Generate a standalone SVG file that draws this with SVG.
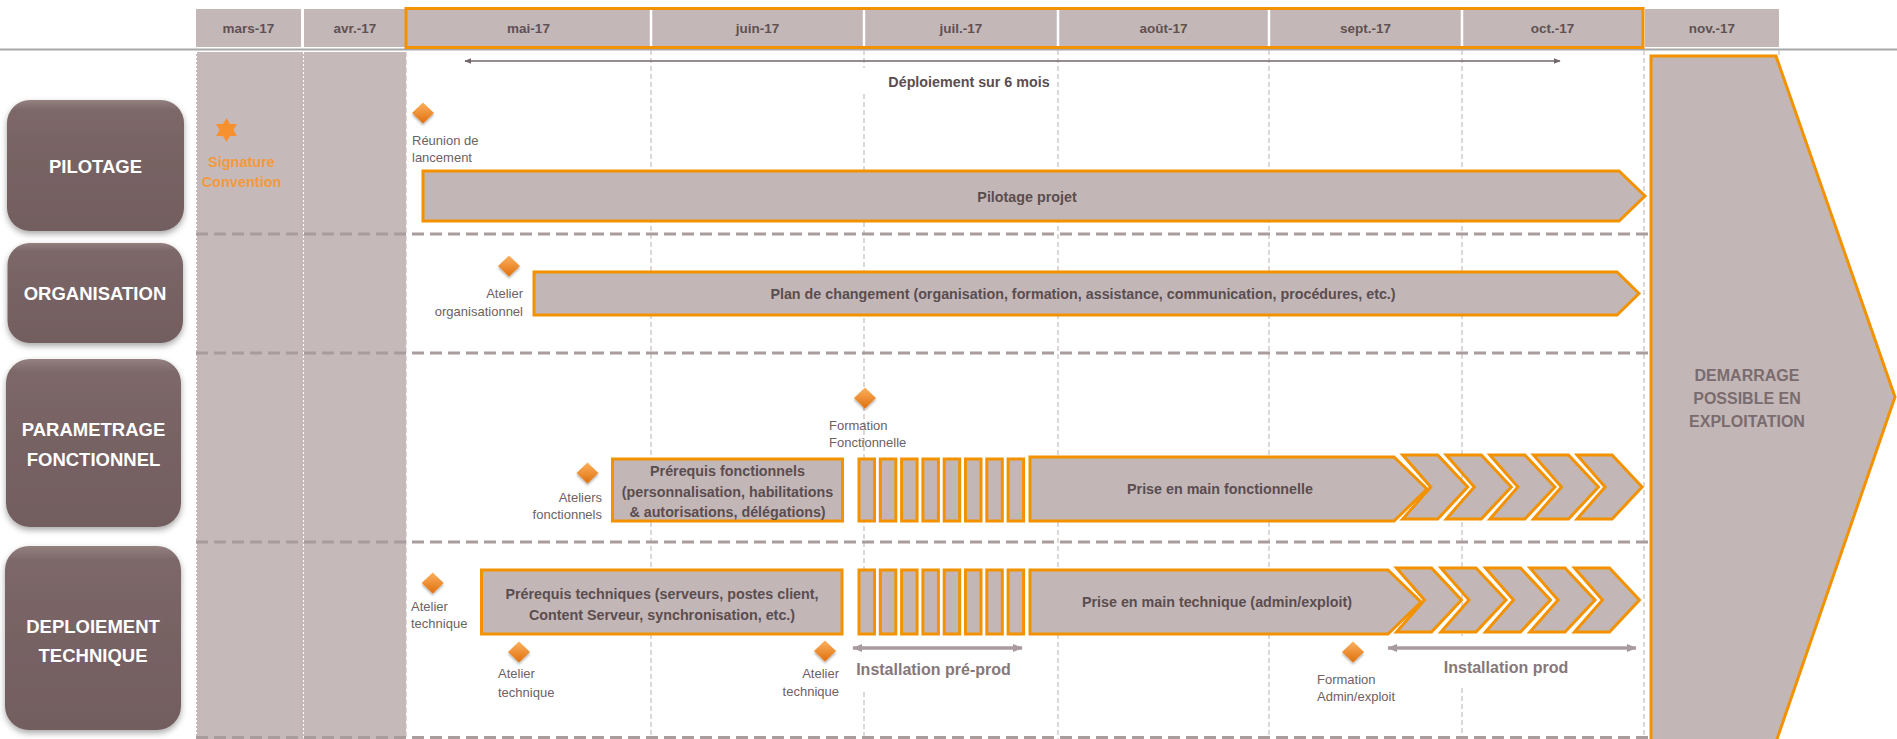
<svg xmlns="http://www.w3.org/2000/svg" width="1897" height="739" viewBox="0 0 1897 739">
<defs>
<linearGradient id="boxg" x1="0" y1="0" x2="0" y2="1">
<stop offset="0" stop-color="#93807f"/>
<stop offset="0.08" stop-color="#7c6768"/>
<stop offset="1" stop-color="#725d5f"/>
</linearGradient>
<linearGradient id="diag" x1="0" y1="0" x2="0" y2="1">
<stop offset="0" stop-color="#fbb15e"/>
<stop offset="1" stop-color="#e0700e"/>
</linearGradient>
<filter id="sh" x="-10%" y="-10%" width="120%" height="130%">
<feDropShadow dx="0" dy="3" stdDeviation="3" flood-color="#000" flood-opacity="0.35"/>
</filter>
<filter id="dsh" x="-40%" y="-40%" width="180%" height="190%">
<feDropShadow dx="0" dy="2" stdDeviation="1.2" flood-color="#000" flood-opacity="0.3"/>
</filter>
<path id="dia" d="M0,-10.5 L11,0 L0,10.5 L-11,0 Z"/>
<path id="chev" d="M0,0 L35,0 L65,32 L35,64 L0,64 L28,32 Z"/>
<marker id="ahd" viewBox="0 0 10 10" refX="9" refY="5" markerWidth="7" markerHeight="7" orient="auto-start-reverse" markerUnits="userSpaceOnUse">
<path d="M0,1 L10,5 L0,9 Z" fill="#74666a"/>
</marker>
<marker id="ahl" viewBox="0 0 10 10" refX="9" refY="5" markerWidth="10" markerHeight="10" orient="auto-start-reverse" markerUnits="userSpaceOnUse">
<path d="M0,1 L10,5 L0,9 Z" fill="#a89b9d"/>
</marker>
<style>
.hdr{fill:#c4b7b8}
.mon{font-family:"Liberation Sans",Arial,sans-serif;font-weight:bold;font-size:13.5px;fill:#5e5153;text-anchor:middle}
.lbl{fill:url(#boxg);filter:url(#sh)}
.lt{font-family:"Liberation Sans",Arial,sans-serif;font-weight:bold;font-size:18.5px;fill:#ffffff;text-anchor:middle}
.bar{fill:#c3b6b7;stroke:#f39200;stroke-width:3}
.bt{font-family:"Liberation Sans",Arial,sans-serif;font-weight:bold;font-size:14.3px;fill:#5a4d4f;text-anchor:middle}
.sm{font-family:"Liberation Sans",Arial,sans-serif;font-size:13px;fill:#6d6163}
.vd{stroke:#c8bdbe;stroke-width:1.2;stroke-dasharray:5 3;fill:none}
.sep{stroke:#a99c9d;stroke-width:3;stroke-dasharray:12 6;fill:none}
.dia{fill:url(#diag);filter:url(#dsh)}
.big{font-family:"Liberation Sans",Arial,sans-serif;font-weight:bold;font-size:16px;fill:#86787a;text-anchor:middle}
.dem{font-family:"Liberation Sans",Arial,sans-serif;font-weight:bold;font-size:16px;fill:#7a6c6e;text-anchor:middle}
.sig{font-family:"Liberation Sans",Arial,sans-serif;font-weight:bold;font-size:14.5px;fill:#f39a3c;text-anchor:middle}
</style>
</defs>
<rect x="0" y="0" width="1897" height="739" fill="#ffffff"/>

<!-- shaded pre-project columns -->
<g id="preperiod">
<rect x="196" y="52" width="210" height="690" fill="#c5b9ba"/>
<line x1="303.5" y1="52" x2="303.5" y2="739" stroke="#ffffff" stroke-width="1" stroke-dasharray="2 2"/>
<line x1="196.5" y1="52" x2="196.5" y2="739" stroke="#ffffff" stroke-width="1" stroke-dasharray="2 2"/>
</g>

<!-- header -->
<g id="header">
<line x1="0" y1="49.5" x2="1897" y2="49.5" stroke="#a8a8a8" stroke-width="2"/>
<rect class="hdr" x="196" y="9" width="105" height="38"/>
<rect class="hdr" x="304" y="9" width="102" height="38"/>
<rect class="hdr" x="406" y="9" width="1237" height="38"/>
<rect class="hdr" x="1645" y="9" width="134" height="38"/>
<g stroke="#ffffff" stroke-width="2.5">
<line x1="651" y1="10" x2="651" y2="46"/>
<line x1="864" y1="10" x2="864" y2="46"/>
<line x1="1058" y1="10" x2="1058" y2="46"/>
<line x1="1269" y1="10" x2="1269" y2="46"/>
<line x1="1462" y1="10" x2="1462" y2="46"/>
</g>
<rect x="406" y="8.5" width="1237" height="39" fill="none" stroke="#f39200" stroke-width="3"/>
<text class="mon" x="248.5" y="33">mars-17</text>
<text class="mon" x="355" y="33">avr.-17</text>
<text class="mon" x="528.5" y="33">mai-17</text>
<text class="mon" x="757.5" y="33">juin-17</text>
<text class="mon" x="961" y="33">juil.-17</text>
<text class="mon" x="1163.5" y="33">août-17</text>
<text class="mon" x="1365.5" y="33">sept.-17</text>
<text class="mon" x="1552.5" y="33">oct.-17</text>
<text class="mon" x="1712" y="33">nov.-17</text>
</g>

<!-- month grid lines -->
<g id="grid">
<line class="vd" x1="406" y1="52" x2="406" y2="739"/>
<line class="vd" x1="651" y1="50" x2="651" y2="739"/>
<line class="vd" x1="864" y1="50" x2="864" y2="68"/>
<line class="vd" x1="864" y1="94" x2="864" y2="636"/>
<line class="vd" x1="864" y1="692" x2="864" y2="739"/>
<line class="vd" x1="1058" y1="50" x2="1058" y2="739"/>
<line class="vd" x1="1269" y1="50" x2="1269" y2="739"/>
<line class="vd" x1="1462" y1="50" x2="1462" y2="636"/>
<line class="vd" x1="1462" y1="688" x2="1462" y2="739"/>
<line class="vd" x1="1644" y1="50" x2="1644" y2="739"/>
<line class="vd" x1="1779" y1="50" x2="1779" y2="58"/>
</g>

<!-- row separators -->
<g id="separators">
<line class="sep" x1="196" y1="234" x2="1648" y2="234"/>
<line class="sep" x1="196" y1="353" x2="1648" y2="353"/>
<line class="sep" x1="196" y1="542" x2="1648" y2="542"/>
<line class="sep" x1="196" y1="737.5" x2="1648" y2="737.5"/>
</g>

<!-- row labels -->
<g id="row-pilotage">
<rect class="lbl" x="7" y="100" width="177" height="131" rx="23"/>
<text class="lt" x="95.5" y="173">PILOTAGE</text>
</g>
<g id="row-organisation">
<rect class="lbl" x="7.5" y="243" width="175.5" height="100" rx="22"/>
<text class="lt" x="95" y="299.5">ORGANISATION</text>
</g>
<g id="row-parametrage">
<rect class="lbl" x="6" y="359" width="175" height="168" rx="24"/>
<text class="lt" x="93.5" y="435.5">PARAMETRAGE</text>
<text class="lt" x="93.5" y="465.5">FONCTIONNEL</text>
</g>
<g id="row-deploiement">
<rect class="lbl" x="5" y="546" width="176" height="184" rx="24"/>
<text class="lt" x="93" y="632.5">DEPLOIEMENT</text>
<text class="lt" x="93" y="661.5">TECHNIQUE</text>
</g>

<!-- connectors -->
<g id="connectors">
<line x1="465" y1="61" x2="1560" y2="61" stroke="#74666a" stroke-width="1.6" marker-start="url(#ahd)" marker-end="url(#ahd)"/>
<line x1="853" y1="648" x2="1022" y2="648" stroke="#a89b9d" stroke-width="3.5" marker-start="url(#ahl)" marker-end="url(#ahl)"/>
<line x1="1388" y1="648" x2="1636" y2="648" stroke="#a89b9d" stroke-width="3.5" marker-start="url(#ahl)" marker-end="url(#ahl)"/>
</g>

<g id="deploiement-label">
<text class="bt" x="969" y="87">Déploiement sur 6 mois</text>
</g>

<!-- signature -->
<g id="signature">
<path d="M226.5,118 L236.9,136 L216.1,136 Z M226.5,142 L216.1,124 L236.9,124 Z" fill="#f7912f"/>
<text class="sig" x="241.5" y="166.5">Signature</text>
<text class="sig" x="241.5" y="186.5">Convention</text>
</g>

<!-- PILOTAGE row -->
<g id="m-reunion">
<use href="#dia" class="dia" x="423" y="113"/>
<text class="sm" x="412" y="144.5">Réunion de</text>
<text class="sm" x="412" y="161.5">lancement</text>
</g>
<g id="pilotage-projet">
<polygon class="bar" points="423,171 1619,171 1645,196 1619,221 423,221"/>
<text class="bt" x="1027" y="201.5">Pilotage projet</text>
</g>

<!-- ORGANISATION row -->
<g id="m-atelier-org">
<use href="#dia" class="dia" x="509" y="266"/>
<text class="sm" x="523" y="297.5" text-anchor="end">Atelier</text>
<text class="sm" x="523" y="315.5" text-anchor="end">organisationnel</text>
</g>
<g id="plan-changement">
<polygon class="bar" points="534,272 1617,272 1639,293.5 1617,315 534,315"/>
<text class="bt" x="1083" y="299">Plan de changement (organisation, formation, assistance, communication, procédures, etc.)</text>
</g>

<!-- PARAMETRAGE row -->
<g id="m-formation-fonc">
<use href="#dia" class="dia" x="865" y="398"/>
<text class="sm" x="829" y="429.5">Formation</text>
<text class="sm" x="829" y="446.5">Fonctionnelle</text>
</g>
<g id="m-ateliers-fonc">
<use href="#dia" class="dia" x="587.5" y="473"/>
<text class="sm" x="602" y="501.5" text-anchor="end">Ateliers</text>
<text class="sm" x="602" y="519" text-anchor="end">fonctionnels</text>
</g>
<g id="prerequis-fonc">
<rect class="bar" x="612.5" y="459" width="230" height="62" stroke-width="2.5"/>
<text class="bt" x="727.5" y="476">Prérequis fonctionnels</text>
<text class="bt" x="727.5" y="496.5">(personnalisation, habilitations</text>
<text class="bt" x="727.5" y="517">&amp; autorisations, délégations)</text>
</g>
<g id="sprints-fonc" class="bar" stroke-width="2.5">
<rect x="859" y="459" width="15.5" height="62"/>
<rect x="880.3" y="459" width="15.5" height="62"/>
<rect x="901.6" y="459" width="15.5" height="62"/>
<rect x="922.9" y="459" width="15.5" height="62"/>
<rect x="944.2" y="459" width="15.5" height="62"/>
<rect x="965.5" y="459" width="15.5" height="62"/>
<rect x="986.8" y="459" width="15.5" height="62"/>
<rect x="1008.1" y="459" width="15.5" height="62"/>
</g>
<g id="prise-fonc">
<polygon class="bar" points="1030,457 1394,457 1427,489 1394,521 1030,521"/>
<text class="bt" x="1220" y="494">Prise en main fonctionnelle</text>
</g>
<g id="chevrons-fonc" class="bar">
<use href="#chev" x="1402.7" y="455"/>
<use href="#chev" x="1446.3" y="455"/>
<use href="#chev" x="1489.9" y="455"/>
<use href="#chev" x="1533.5" y="455"/>
<use href="#chev" x="1577.1" y="455"/>
</g>

<!-- DEPLOIEMENT row -->
<g id="m-atelier-tech1">
<use href="#dia" class="dia" x="432.7" y="583"/>
<text class="sm" x="411" y="611">Atelier</text>
<text class="sm" x="411" y="628">technique</text>
</g>
<g id="prerequis-tech">
<rect class="bar" x="481.5" y="570" width="360.5" height="64" stroke-width="2.5"/>
<text class="bt" x="662" y="599">Prérequis techniques (serveurs, postes client,</text>
<text class="bt" x="662" y="620">Content Serveur, synchronisation, etc.)</text>
</g>
<g id="m-atelier-tech2">
<use href="#dia" class="dia" x="519" y="652"/>
<text class="sm" x="498" y="678">Atelier</text>
<text class="sm" x="498" y="696.5">technique</text>
</g>
<g id="m-atelier-tech3">
<use href="#dia" class="dia" x="825" y="651"/>
<text class="sm" x="839" y="678" text-anchor="end">Atelier</text>
<text class="sm" x="839" y="696" text-anchor="end">technique</text>
</g>
<g id="sprints-tech" class="bar" stroke-width="2.5">
<rect x="859" y="570" width="15.5" height="64"/>
<rect x="880.3" y="570" width="15.5" height="64"/>
<rect x="901.6" y="570" width="15.5" height="64"/>
<rect x="922.9" y="570" width="15.5" height="64"/>
<rect x="944.2" y="570" width="15.5" height="64"/>
<rect x="965.5" y="570" width="15.5" height="64"/>
<rect x="986.8" y="570" width="15.5" height="64"/>
<rect x="1008.1" y="570" width="15.5" height="64"/>
</g>
<g id="prise-tech">
<polygon class="bar" points="1030,570 1388,570 1421,602 1388,634 1030,634"/>
<text class="bt" x="1217" y="607">Prise en main technique (admin/exploit)</text>
</g>
<g id="chevrons-tech" class="bar">
<use href="#chev" x="1396.5" y="568"/>
<use href="#chev" x="1441" y="568"/>
<use href="#chev" x="1485.5" y="568"/>
<use href="#chev" x="1530" y="568"/>
<use href="#chev" x="1574.5" y="568"/>
</g>
<g id="installation-preprod">
<text class="big" x="933.5" y="674.5">Installation pré-prod</text>
</g>
<g id="m-formation-admin">
<use href="#dia" class="dia" x="1353" y="652"/>
<text class="sm" x="1317" y="683.5">Formation</text>
<text class="sm" x="1317" y="701">Admin/exploit</text>
</g>
<g id="installation-prod">
<text class="big" x="1506" y="672.5">Installation prod</text>
</g>

<!-- DEMARRAGE -->
<g id="demarrage">
<polygon points="1651,56 1776,56 1895,397 1776,742 1651,742" fill="#c3b6b7" stroke="#f39200" stroke-width="3"/>
<text class="dem" x="1747" y="381">DEMARRAGE</text>
<text class="dem" x="1747" y="404">POSSIBLE EN</text>
<text class="dem" x="1747" y="427">EXPLOITATION</text>
</g>
</svg>
